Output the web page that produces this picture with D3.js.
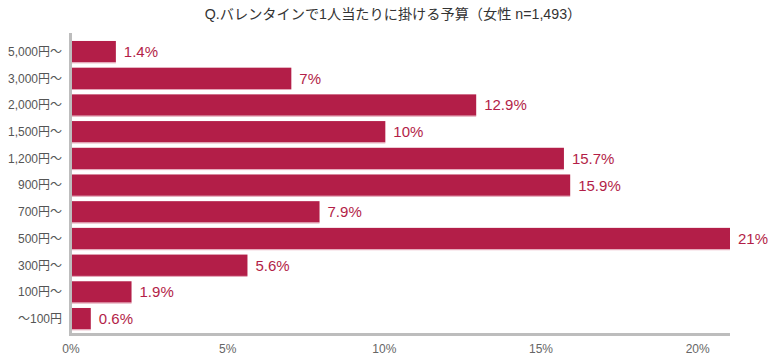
<!DOCTYPE html>
<html lang="ja">
<head>
<meta charset="UTF-8">
<title>バレンタイン予算</title>
<script src="https://d3js.org/d3.v7.min.js"></script>
<style>
    body { margin: 0; background: #fff; font-family: "Liberation Sans", Arial, "Noto Sans CJK JP", sans-serif; }
    .cat { font-size: 12px; fill: #555; }
    .tick-label { font-size: 12px; fill: #666; }
    .val { font-size: 15px; fill: #b31e48; }
    .title { font-size: 14.2px; fill: #333; }
</style>
</head>
<body>
<svg id="chart" width="775" height="363"></svg>
<script>
// data
const categories = ["5,000円～", "3,000円～", "2,000円～", "1,500円～", "1,200円～", "900円～", "700円～", "500円～", "300円～", "100円～", "～100円"];
const values = [1.4, 7, 12.9, 10, 15.7, 15.9, 7.9, 21, 5.6, 1.9, 0.6];
const valueLabels = ["1.4%", "7%", "12.9%", "10%", "15.7%", "15.9%", "7.9%", "21%", "5.6%", "1.9%", "0.6%"];
const ticks = [0, 5, 10, 15, 20];
const chartTitle = "Q.バレンタインで1人当たりに掛ける予算（女性 n=1,493）";

const svg = d3.select("#chart");
const plotLeft = 72, plotTop = 38.3, plotBottom = 332;

const x = d3.scaleLinear().domain([0, 21]).range([plotLeft, 730]);
const y = d3.scaleBand().domain(categories).range([plotTop, plotBottom])
    .paddingInner(0.2).paddingOuter(0.1);

svg.append("text").attr("class", "title")
    .attr("x", 393).attr("y", 18.5).attr("text-anchor", "middle")
    .text(chartTitle);

const data = categories.map((c, i) => ({ cat: c, v: values[i], label: valueLabels[i] }));

// bars
const g = svg.append("g");
g.selectAll("rect.bar").data(data).enter().append("rect")
    .attr("class", "bar")
    .attr("x", plotLeft)
    .attr("y", d => y(d.cat))
    .attr("width", d => x(d.v) - plotLeft)
    .attr("height", y.bandwidth())
    .attr("fill", "#b31e48");

// faint lighter edge under each bar
g.selectAll("line.edge").data(data).enter().append("line")
    .attr("x1", plotLeft).attr("x2", d => x(d.v))
    .attr("y1", d => y(d.cat) + y.bandwidth() + 0.5)
    .attr("y2", d => y(d.cat) + y.bandwidth() + 0.5)
    .attr("stroke", "#e3a3b5").attr("stroke-width", 1);

g.selectAll("text.val").data(data).enter().append("text")
    .attr("class", "val")
    .attr("x", d => x(d.v) + 8)
    .attr("y", d => y(d.cat) + y.bandwidth() / 2)
    .attr("dy", "0.36em")
    .text(d => d.label);

// category labels
svg.selectAll("text.cat").data(categories).enter().append("text")
    .attr("class", "cat")
    .attr("x", 62)
    .attr("y", d => y(d) + y.bandwidth() / 2)
    .attr("dy", "0.36em")
    .attr("text-anchor", "end")
    .text(d => d);

// axis lines
svg.append("rect").attr("x", 69).attr("y", 33).attr("width", 3).attr("height", 303).attr("fill", "#bdbdbd");
svg.append("rect").attr("x", 69).attr("y", 333).attr("width", 661).attr("height", 3).attr("fill", "#bdbdbd");

// x tick labels
svg.selectAll("text.tick-label").data(ticks).enter().append("text")
    .attr("class", "tick-label")
    .attr("x", d => x(d) - 1)
    .attr("y", 353)
    .attr("text-anchor", "middle")
    .text(d => d + "%");
</script>
</body>
</html>
